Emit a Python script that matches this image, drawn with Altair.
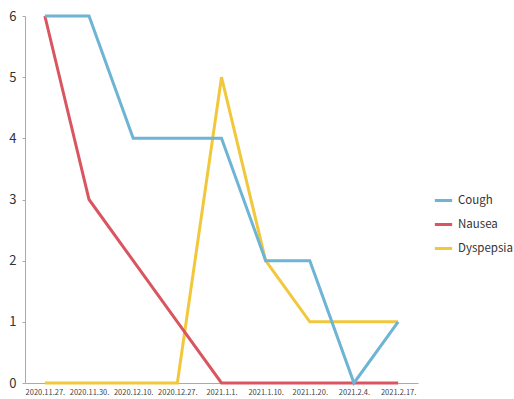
import altair as alt
import pandas as pd

dates = ["2020.11.27.", "2020.11.30.", "2020.12.10.", "2020.12.27.", "2021.1.1.",
         "2021.1.10.", "2021.1.20.", "2021.2.4.", "2021.2.17."]
series_names = ["Cough", "Nausea", "Dyspepsia"]
cough = [6, 6, 4, 4, 4, 2, 2, 0, 1]
nausea = [6, 3, 2, 1, 0, 0, 0, 0, 0]
dyspepsia = [0, 0, 0, 0, 5, 2, 1, 1, 1]
colors = ["#6db4d5", "#d95560", "#f1c83c"]

rows = []
for name, vals in zip(series_names, [cough, nausea, dyspepsia]):
    for i, (d, v) in enumerate(zip(dates, vals)):
        rows.append({"date": d, "value": v, "series": name, "order": i})
df = pd.DataFrame(rows)

base = alt.Chart(df).mark_line(strokeWidth=3).encode(
    x=alt.X("date:N", sort=dates, title=None,
            scale=alt.Scale(type="point", padding=0.45),
            axis=alt.Axis(labelAngle=0, labelFontSize=7.5, labelColor="#444",
                          ticks=False, domainColor="#aaa", labelPadding=5,
                          labelFont="Noto Sans CJK KR")),
    y=alt.Y("value:Q", title=None, scale=alt.Scale(domain=[0, 6], nice=False),
            axis=alt.Axis(values=[0, 1, 2, 3, 4, 5, 6], grid=False, tickSize=3,
                          tickColor="#aaa", domainColor="#aaa", labelFontSize=13,
                          labelColor="#333", labelPadding=6,
                          labelFont="Noto Sans CJK KR")),
    color=alt.Color("series:N", sort=series_names,
                    scale=alt.Scale(domain=series_names, range=colors),
                    legend=alt.Legend(title=None, orient="none", legendX=408, legendY=174,
                                      symbolType="stroke", symbolStrokeWidth=3,
                                      symbolSize=300, labelFontSize=11.5,
                                      labelColor="#333", rowPadding=7,
                                      labelFont="Noto Sans CJK KR")),
    order="order:Q",
)

layers = [base.transform_filter(alt.datum.series == name) for name in reversed(series_names)]

chart = alt.layer(*layers).properties(
    width=393, height=367,
    autosize=alt.AutoSizeParams(type="none"),
    padding={"left": 25, "top": 16, "right": 96, "bottom": 16},
).configure_view(stroke=None)

chart.save("out.html", embed_options={"renderer": "svg", "actions": False})
